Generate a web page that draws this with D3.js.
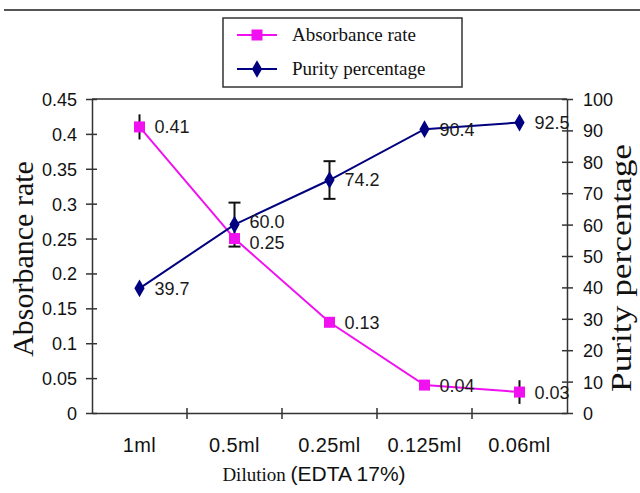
<!DOCTYPE html>
<html>
<head>
<meta charset="utf-8">
<script src="https://cdn.jsdelivr.net/npm/d3@7/dist/d3.min.js"></script>
<style>
  html, body { margin: 0; padding: 0; background: #fff; }
  svg { display: block; }
</style>
</head>
<body>
<svg id="chart" width="640" height="493"></svg>
<script>
// Dilution series of EDTA 17%
const categories = ["1ml", "0.5ml", "0.25ml", "0.125ml", "0.06ml"];
const absorbance = [0.41, 0.25, 0.13, 0.04, 0.03];
const absorbanceErr = [0.018, 0, 0, 0, 0.017];
const purity = [39.7, 60.0, 74.2, 90.4, 92.5];
const purityErr = [0, 7, 6, 0, 0];
const leftTicks = [0, 0.05, 0.1, 0.15, 0.2, 0.25, 0.3, 0.35, 0.4, 0.45];
const rightTicks = [0, 10, 20, 30, 40, 50, 60, 70, 80, 90, 100];

const SANS = "'Liberation Sans', Arial, sans-serif";
const SERIF = "'Liberation Serif', 'Times New Roman', serif";
const PINK = "#f010f0";
const NAVY = "#000080";
const AXIS = "#333";

const svg = d3.select("#chart");
const plot = { left: 92, right: 567, top: 99, bottom: 413 };

const x = d3.scaleBand().domain(categories).range([plot.left, plot.right]);
const yL = d3.scaleLinear().domain([0, 0.45]).range([plot.bottom, plot.top]);
const yR = d3.scaleLinear().domain([0, 100]).range([plot.bottom, plot.top]);
const cx = d => x(d) + x.bandwidth() / 2;

// rule across the top of the figure
svg.append("line")
  .attr("x1", 4).attr("x2", 640).attr("y1", 10).attr("y2", 10)
  .attr("stroke", "#555").attr("stroke-width", 2);

// top border of the plot
svg.append("line")
  .attr("x1", plot.left).attr("x2", plot.right)
  .attr("y1", plot.top).attr("y2", plot.top)
  .attr("stroke", AXIS).attr("stroke-width", 1.5);

function styleAxis(g) {
  g.select(".domain").attr("stroke", AXIS).attr("stroke-width", 1.5);
  g.selectAll(".tick line").attr("stroke", AXIS).attr("stroke-width", 1.5);
  g.selectAll(".tick text").attr("fill", "#111")
    .style("font-family", SANS).style("font-size", "18px");
}

// left axis
const gL = svg.append("g").attr("transform", `translate(${plot.left},0)`)
  .call(d3.axisLeft(yL).tickValues(leftTicks).tickFormat(d3.format("")).tickSize(6).tickSizeOuter(0).tickPadding(9));
styleAxis(gL);
gL.selectAll(".tick line").attr("x1", 5);
gL.selectAll(".tick text").attr("dy", "0.36em");

// right axis
const gR = svg.append("g").attr("transform", `translate(${plot.right},0)`)
  .call(d3.axisRight(yR).tickValues(rightTicks).tickSize(6).tickSizeOuter(0).tickPadding(10));
styleAxis(gR);
gR.selectAll(".tick line").attr("x1", -5);
gR.selectAll(".tick text").attr("dy", "0.36em");

// bottom axis: labels centred in each band, ticks on band boundaries
const gB = svg.append("g").attr("transform", `translate(0,${plot.bottom})`)
  .call(d3.axisBottom(x).tickSize(0).tickSizeOuter(0).tickPadding(0));
styleAxis(gB);
gB.selectAll(".tick text").attr("y", 39).attr("dy", 0)
  .style("font-size", "20px").style("letter-spacing", "0.4px");
gB.selectAll(".sep").data(categories.slice(1)).join("line")
  .attr("class", "sep")
  .attr("x1", d => x(d)).attr("x2", d => x(d))
  .attr("y1", -5).attr("y2", 6)
  .attr("stroke", AXIS).attr("stroke-width", 1.5);

// axis titles
svg.append("text")
  .attr("transform", `translate(33,259) rotate(-90)`)
  .attr("text-anchor", "middle")
  .style("font-family", SERIF).style("font-size", "30px").attr("fill", "#111")
  .text("Absorbance rate");

svg.append("text")
  .attr("transform", `translate(631,268) rotate(-90)`)
  .attr("text-anchor", "middle")
  .attr("textLength", 248).attr("lengthAdjust", "spacingAndGlyphs")
  .style("font-family", SERIF).style("font-size", "30px").attr("fill", "#111")
  .text("Purity percentage");

const xt = svg.append("text")
  .attr("x", 314).attr("y", 481).attr("text-anchor", "middle")
  .attr("fill", "#111");
xt.append("tspan").style("font-family", SERIF).style("font-size", "19px").text("Dilution ");
xt.append("tspan").style("font-family", SANS).style("font-size", "21px").text("(EDTA 17%)");

// error bars
const errA = categories.map((c, i) => ({ c, v: absorbance[i], e: absorbanceErr[i] })).filter(d => d.e > 0);
svg.selectAll(".errA").data(errA).join("line")
  .attr("class", "errA")
  .attr("x1", d => cx(d.c)).attr("x2", d => cx(d.c))
  .attr("y1", d => yL(d.v + d.e)).attr("y2", d => yL(d.v - d.e))
  .attr("stroke", "#111").attr("stroke-width", 2);

const errP = categories.map((c, i) => ({ c, v: purity[i], e: purityErr[i] })).filter(d => d.e > 0);
const gE = svg.selectAll(".errP").data(errP).join("g").attr("class", "errP");
gE.append("line")
  .attr("x1", d => cx(d.c)).attr("x2", d => cx(d.c))
  .attr("y1", d => yR(d.v + d.e)).attr("y2", d => yR(d.v - d.e))
  .attr("stroke", "#111").attr("stroke-width", 2);
[1, -1].forEach(s => {
  gE.append("line")
    .attr("x1", d => cx(d.c) - 6).attr("x2", d => cx(d.c) + 6)
    .attr("y1", d => yR(d.v + s * d.e)).attr("y2", d => yR(d.v + s * d.e))
    .attr("stroke", "#111").attr("stroke-width", 2);
});

// series lines
svg.append("path")
  .datum(absorbance)
  .attr("fill", "none").attr("stroke", PINK).attr("stroke-width", 2)
  .attr("d", d3.line().x((d, i) => cx(categories[i])).y(d => yL(d)));

svg.append("path")
  .datum(purity)
  .attr("fill", "none").attr("stroke", NAVY).attr("stroke-width", 2)
  .attr("d", d3.line().x((d, i) => cx(categories[i])).y(d => yR(d)));

// markers
const sq = d3.symbol().type(d3.symbolSquare).size(121);
const dm = d3.symbol().type(d3.symbolDiamond).size(90);

svg.selectAll(".mA").data(absorbance).join("path")
  .attr("class", "mA")
  .attr("transform", (d, i) => `translate(${cx(categories[i])},${yL(d)})`)
  .attr("d", sq).attr("fill", PINK);

svg.selectAll(".mP").data(purity).join("path")
  .attr("class", "mP")
  .attr("transform", (d, i) => `translate(${cx(categories[i])},${yR(d)})`)
  .attr("d", dm).attr("fill", NAVY);

// value labels; where the two labels of one category are close, spread them apart
const LABEL_GAP = 21;
const labelY = categories.map((c, i) => {
  let a = yL(absorbance[i]), p = yR(purity[i]);
  const d = Math.abs(a - p);
  if (d < LABEL_GAP) {
    const push = (LABEL_GAP - d) / 2;
    if (a > p) { a += push; p -= push; } else { a -= push; p += push; }
  }
  return { a, p };
});

svg.selectAll(".lA").data(absorbance).join("text")
  .attr("class", "lA")
  .attr("x", (d, i) => cx(categories[i]) + 15).attr("y", (d, i) => labelY[i].a).attr("dy", "0.36em")
  .style("font-family", SANS).style("font-size", "18px").attr("fill", "#1a1a1a")
  .text(d => d3.format(".2f")(d));

svg.selectAll(".lP").data(purity).join("text")
  .attr("class", "lP")
  .attr("x", (d, i) => cx(categories[i]) + 15).attr("y", (d, i) => labelY[i].p).attr("dy", "0.36em")
  .style("font-family", SANS).style("font-size", "18px").attr("fill", "#1a1a1a")
  .text(d => d3.format(".1f")(d));

// legend
const lg = svg.append("g");
lg.append("rect")
  .attr("x", 223).attr("y", 18).attr("width", 239).attr("height", 69)
  .attr("fill", "#fff").attr("stroke", AXIS).attr("stroke-width", 1.5);
const legendItems = [
  { label: "Absorbance rate", color: PINK, sym: sq, y: 35 },
  { label: "Purity percentage", color: NAVY, sym: dm, y: 69 }
];
legendItems.forEach(it => {
  lg.append("line").attr("x1", 237).attr("x2", 277).attr("y1", it.y).attr("y2", it.y)
    .attr("stroke", it.color).attr("stroke-width", 2);
  lg.append("path").attr("transform", `translate(257,${it.y})`).attr("d", it.sym).attr("fill", it.color);
  lg.append("text").attr("x", 292).attr("y", it.y + 6)
    .style("font-family", SERIF).style("font-size", "19px").attr("fill", "#111")
    .text(it.label);
});
</script>
</body>
</html>
